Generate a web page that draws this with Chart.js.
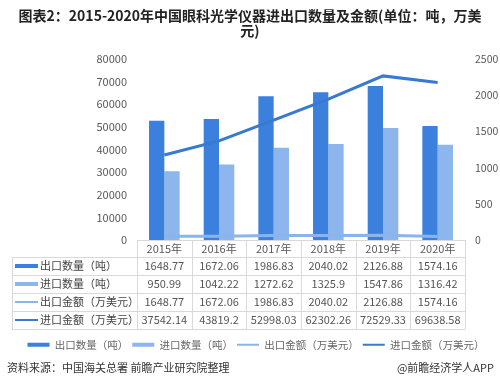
<!DOCTYPE html>
<html><head><meta charset="utf-8">
<script src="https://cdn.jsdelivr.net/npm/chart.js@4"></script>
<style>
body{margin:0;}
#wrap{position:relative;width:500px;height:388px;background:#fff;overflow:hidden;font-family:"Noto Sans CJK SC",sans-serif;}
#title{position:absolute;left:0;top:8px;width:500px;text-align:center;font-weight:bold;font-size:14px;line-height:15px;color:#222;}
#src{position:absolute;left:7px;top:360px;font-size:11px;line-height:14px;color:#333;}
#app{position:absolute;right:6px;top:360px;font-size:11px;line-height:14px;color:#333;}
canvas{position:absolute;left:0;top:0;}
</style></head><body>
<div id="wrap"><canvas id="c" width="500" height="388"></canvas>
<div id="title">图表2：2015-2020年中国眼科光学仪器进出口数量及金额(单位：吨，万美<br>元)</div>
<div id="src">资料来源：中国海关总署 前瞻产业研究院整理</div>
<div id="app">@前瞻经济学人APP</div></div>
<script>
const categories = ['2015年','2016年','2017年','2018年','2019年','2020年'];
const exportQty = [1648.77,1672.06,1986.83,2040.02,2126.88,1574.16];
const importQty = [950.99,1042.22,1272.62,1325.9,1547.86,1316.42];
const exportAmt = [1648.77,1672.06,1986.83,2040.02,2126.88,1574.16];
const importAmt = [37542.14,43819.2,52998.03,62302.26,72529.33,69638.58];
const seriesNames = ['出口数量（吨）','进口数量（吨）','出口金额（万美元）','进口金额（万美元）'];

const C_DARK_BAR = '#3b80dc';
const C_LIGHT_BAR = '#8db5ee';
const C_LIGHT_LINE = '#8ab4ec';
const C_DARK_LINE = '#3a79d0';
const FONT = '"Noto Sans CJK SC", sans-serif';

const tablePlugin = {
  id: 'dataTable',
  afterDraw(chart) {
    const ctx = chart.ctx, xs = chart.scales.x, ca = chart.chartArea;
    const top = Math.round(ca.bottom), hdr = 17, rh = 18, left = 12;
    const n = categories.length;
    const colW = (ca.right - ca.left) / n;
    const bottom = top + hdr + rh * 4;
    ctx.save();
    ctx.strokeStyle = '#d9d9d9';
    ctx.lineWidth = 1;
    ctx.beginPath();
    ctx.moveTo(ca.left, top + 0.5); ctx.lineTo(ca.right, top + 0.5);
    for (let r = 0; r <= 4; r++) {
      const y = Math.round(top + hdr + r * rh) + 0.5;
      ctx.moveTo(left, y); ctx.lineTo(ca.right, y);
    }
    ctx.moveTo(left + 0.5, top + hdr); ctx.lineTo(left + 0.5, bottom);
    for (let i = 0; i <= n; i++) {
      const xp = Math.round(xs.getPixelForValue(0) - colW / 2 + i * colW) + 0.5;
      ctx.moveTo(xp, top); ctx.lineTo(xp, bottom + 0.5);
    }
    ctx.stroke();
    ctx.font = '11px ' + FONT;
    ctx.textBaseline = 'middle';
    ctx.textAlign = 'center';
    ctx.fillStyle = '#595959';
    categories.forEach((c, i) => ctx.fillText(c, xs.getPixelForValue(i), top + hdr / 2 + 0.5));
    const rows = [exportQty, importQty, exportAmt, importAmt];
    const colors = [C_DARK_BAR, C_LIGHT_BAR, C_LIGHT_LINE, C_DARK_LINE];
    const widths = [4, 4, 2, 2];
    rows.forEach((vals, r) => {
      const cy = top + hdr + r * rh + rh / 2;
      ctx.strokeStyle = colors[r];
      ctx.lineWidth = widths[r];
      ctx.beginPath();
      ctx.moveTo(15, cy); ctx.lineTo(38, cy);
      ctx.stroke();
      ctx.fillStyle = '#444';
      ctx.textAlign = 'left';
      ctx.fillText(seriesNames[r], 40, cy);
      ctx.fillStyle = '#555';
      ctx.textAlign = 'center';
      vals.forEach((v, i) => {
        ctx.fillText(String(v), xs.getPixelForValue(i), cy);
      });
    });
    ctx.restore();
  }
};

new Chart(document.getElementById('c'), {
  data: {
    labels: categories,
    datasets: [
      {type:'line', label: seriesNames[2], data: exportAmt, yAxisID:'y', borderColor: C_LIGHT_LINE, backgroundColor: C_LIGHT_LINE, borderWidth: 3, pointRadius: 0, pointHoverRadius: 0, order: 0},
      {type:'line', label: seriesNames[3], data: importAmt, yAxisID:'y', borderColor: C_DARK_LINE, backgroundColor: C_DARK_LINE, borderWidth: 3, pointRadius: 0, pointHoverRadius: 0, order: 0},
      {type:'bar', label: seriesNames[0], data: exportQty, yAxisID:'y1', backgroundColor: C_DARK_BAR, categoryPercentage: 0.56, barPercentage: 1, order: 1},
      {type:'bar', label: seriesNames[1], data: importQty, yAxisID:'y1', backgroundColor: C_LIGHT_BAR, categoryPercentage: 0.56, barPercentage: 1, order: 1}
    ]
  },
  options: {
    responsive: false,
    animation: false,
    devicePixelRatio: 1,
    layout: {autoPadding: false, padding: {top: 59, left: 12, right: 0, bottom: 28}},
    scales: {
      x: {
        grid: {display: false, drawTicks: false}, border: {display: false},
        ticks: {display: false},
        afterFit(s) { s.height = 95.5; }
      },
      y: {
        position: 'left', min: 0, max: 80000,
        grid: {display: false, drawTicks: false}, border: {display: false},
        ticks: {stepSize: 10000, font: {size: 11, family: FONT}, color: '#595959', padding: 10, callback: v => String(v)},
        afterFit(s) { s.width = 125; }
      },
      y1: {
        position: 'right', min: 0, max: 2500,
        grid: {display: false, drawTicks: false}, border: {display: false},
        ticks: {stepSize: 500, font: {size: 10.5, family: FONT}, color: '#595959', padding: 10, callback: v => String(v)},
        afterFit(s) { s.width = 35; }
      }
    },
    plugins: {
      title: {display: false},
      tooltip: {enabled: false},
      legend: {
        position: 'bottom',
        labels: {
          usePointStyle: true,
          pointStyleWidth: 22,
          font: {size: 10.5, family: FONT},
          color: '#666',
          padding: 4,
          generateLabels(chart) {
            const ds = chart.data.datasets;
            const order = [2, 3, 0, 1];
            return order.map(i => ({
              text: ds[i].label,
              fillStyle: ds[i].type === 'bar' ? ds[i].backgroundColor : ds[i].borderColor,
              strokeStyle: ds[i].type === 'bar' ? ds[i].backgroundColor : ds[i].borderColor,
              lineWidth: ds[i].type === 'bar' ? 4 : 2,
              pointStyle: 'line',
              fontColor: '#666',
              hidden: false,
              datasetIndex: i
            }));
          }
        }
      }
    }
  },
  plugins: [tablePlugin]
});
</script>
</body></html>
